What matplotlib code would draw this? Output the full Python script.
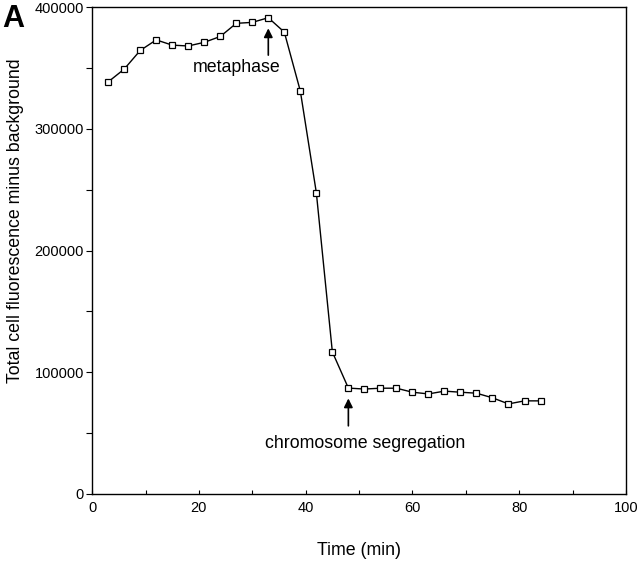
import matplotlib
matplotlib.use("Agg")
import matplotlib.pyplot as plt
from matplotlib.ticker import MultipleLocator

plt.rcParams["font.family"] = ["Liberation Sans", "DejaVu Sans"]

# time points (min) and total cell fluorescence minus background
time_min = [3, 6, 9, 12, 15, 18, 21, 24, 27, 30, 33, 36, 39, 42, 45, 48,
            51, 54, 57, 60, 63, 66, 69, 72, 75, 78, 81, 84]
fluorescence = [338500, 349000, 364300, 373000, 368700, 368000, 371000, 375800,
                386600, 387400, 391200, 379400, 331000, 247500, 116700, 87000,
                86200, 86900, 86900, 83600, 82200, 84500, 83600, 82800,
                79000, 74000, 76500, 76500]

metaphase_t = 33
segregation_t = 48

fig = plt.figure(figsize=(6.4, 5.62), dpi=100)
ax = fig.add_axes([0.144, 0.121, 0.834, 0.8665])

ax.plot(time_min, fluorescence, color="black", linewidth=1.0,
        marker="s", markersize=3.8, markerfacecolor="white",
        markeredgecolor="black", markeredgewidth=0.9)

ax.set_xlim(0, 100)
ax.set_ylim(0, 400000)
ax.xaxis.set_major_locator(MultipleLocator(20))
ax.xaxis.set_minor_locator(MultipleLocator(10))
ax.yaxis.set_major_locator(MultipleLocator(100000))
ax.yaxis.set_minor_locator(MultipleLocator(50000))
ax.tick_params(axis="x", which="both", direction="in", length=3, width=0.8,
               labelsize=10.5, pad=5)
ax.tick_params(axis="y", which="both", direction="out", length=4, width=0.8,
               labelsize=10.5, pad=2)
for s in ax.spines.values():
    s.set_linewidth(1.0)

ax.set_xlabel("Time (min)", fontsize=12.8)
ax.xaxis.set_label_coords(0.5, -0.098)
ax.set_ylabel("Total cell fluorescence minus background", fontsize=12.8)
ax.yaxis.set_label_coords(-0.127, 0.562)

# annotations
i_meta = time_min.index(metaphase_t)
ax.annotate("", xy=(metaphase_t, 382500), xytext=(metaphase_t, 360500),
            arrowprops=dict(arrowstyle="-|>", color="black", lw=1.2,
                            shrinkA=0, shrinkB=0, mutation_scale=13))
ax.text(27.0, 357500, "metaphase", ha="center", va="top", fontsize=12.8)

i_seg = time_min.index(segregation_t)
ax.annotate("", xy=(segregation_t, 78500), xytext=(segregation_t, 56000),
            arrowprops=dict(arrowstyle="-|>", color="black", lw=1.2,
                            shrinkA=0, shrinkB=0, mutation_scale=13))
ax.text(51.1, 48500, "chromosome segregation", ha="center", va="top",
        fontsize=12.8)

fig.text(0.003, 0.993, "A", fontsize=22, fontweight="bold", ha="left", va="top")

fig.savefig("out.png", dpi=100)
